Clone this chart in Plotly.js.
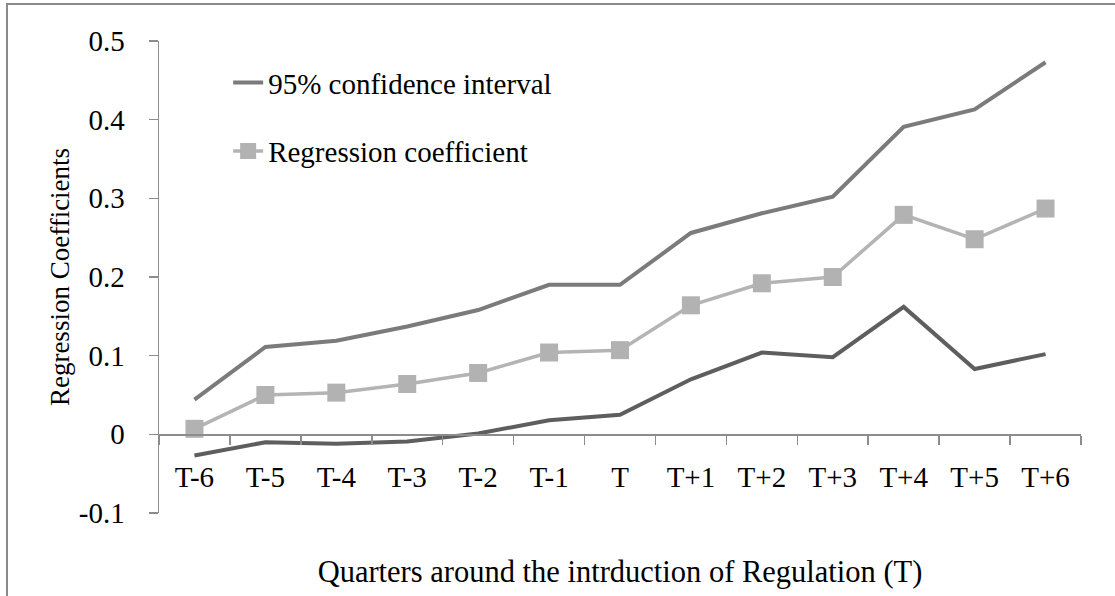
<!DOCTYPE html>
<html>
<head>
<meta charset="utf-8">
<script src="https://cdn.plot.ly/plotly-3.0.1.min.js"></script>
<style>
  html, body { margin: 0; padding: 0; background: #fff; overflow: hidden; }
  #chart { position: absolute; left: 0; top: 0; width: 1115px; height: 596px; }
  #frame { position: absolute; left: 6px; top: 3px; width: 1120px; height: 600px;
           border-left: 2px solid #8a8a8a; border-top: 2px solid #8a8a8a; pointer-events: none; }
</style>
</head>
<body>
<div id="chart"></div>
<div id="frame"></div>
<script>
const categories = ['T-6','T-5','T-4','T-3','T-2','T-1','T','T+1','T+2','T+3','T+4','T+5','T+6'];
const upperCI = [0.044, 0.111, 0.119, 0.137, 0.158, 0.190, 0.190, 0.256, 0.281, 0.302, 0.391, 0.413, 0.473];
const coefficient = [0.007, 0.050, 0.053, 0.064, 0.078, 0.104, 0.107, 0.164, 0.192, 0.200, 0.279, 0.248, 0.287];
const lowerCI = [-0.027, -0.010, -0.012, -0.009, 0.001, 0.018, 0.025, 0.070, 0.104, 0.098, 0.162, 0.083, 0.102];
const yTicks = [-0.1, 0, 0.1, 0.2, 0.3, 0.4, 0.5];
const yTickText = ['-0.1', '0', '0.1', '0.2', '0.3', '0.4', '0.5'];

const FONT = 'Liberation Serif, DejaVu Serif';

const traces = [
  {
    x: categories, y: upperCI, type: 'scatter', mode: 'lines',
    name: '95% confidence interval', legendgroup: 'ci',
    line: { color: '#7b7b7b', width: 4 }
  },
  {
    x: categories, y: lowerCI, type: 'scatter', mode: 'lines',
    name: '95% confidence interval', legendgroup: 'ci', showlegend: false,
    line: { color: '#5e5e5e', width: 4 }
  },
  {
    x: categories, y: coefficient, type: 'scatter', mode: 'lines+markers',
    name: 'Regression coefficient', legendgroup: 'coef',
    line: { color: '#b4b4b4', width: 3.5 },
    marker: { symbol: 'square', size: 18, color: '#b2b2b2' }
  }
];

const layout = {
  width: 1115, height: 596,
  margin: { l: 159, r: 34, t: 41, b: 83 },
  paper_bgcolor: '#fff', plot_bgcolor: '#fff',
  font: { family: FONT, size: 29, color: '#000' },
  showlegend: true,
  legend: {
    x: 0.075, xanchor: 'left', y: 0.966, yanchor: 'top',
    traceorder: 'grouped', tracegroupgap: 28,
    bgcolor: 'rgba(0,0,0,0)', borderwidth: 0,
    font: { family: FONT, size: 29, color: '#000' }
  },
  xaxis: {
    type: 'category',
    range: [-0.5, 12.5],
    anchor: 'free', position: 1/6,
    showline: true, linecolor: '#8c8c8c', linewidth: 1.5,
    showgrid: false, zeroline: false,
    ticks: 'outside', ticklen: 9, tickcolor: '#8c8c8c', tickwidth: 1.5,
    tickson: 'boundaries',
    ticklabelstandoff: 16,
    tickfont: { family: FONT, size: 29, color: '#000' },
    title: { text: 'Quarters around the intrduction of Regulation (T)', standoff: 69,
             font: { family: FONT, size: 30.5, color: '#000' } },
    automargin: false
  },
  yaxis: {
    range: [-0.1, 0.5],
    tickvals: yTicks, ticktext: yTickText,
    showline: true, linecolor: '#8c8c8c', linewidth: 1.5,
    showgrid: false, zeroline: false,
    ticks: 'outside', ticklen: 9, tickcolor: '#8c8c8c', tickwidth: 1.5,
    ticklabelstandoff: 18,
    tickfont: { family: FONT, size: 29, color: '#000' },
    title: { text: 'Regression Coefficients', standoff: 1,
             font: { family: FONT, size: 27, color: '#000' } },
    automargin: false
  }
};

Plotly.newPlot('chart', traces, layout, { displayModeBar: false, staticPlot: true });
</script>
</body>
</html>
